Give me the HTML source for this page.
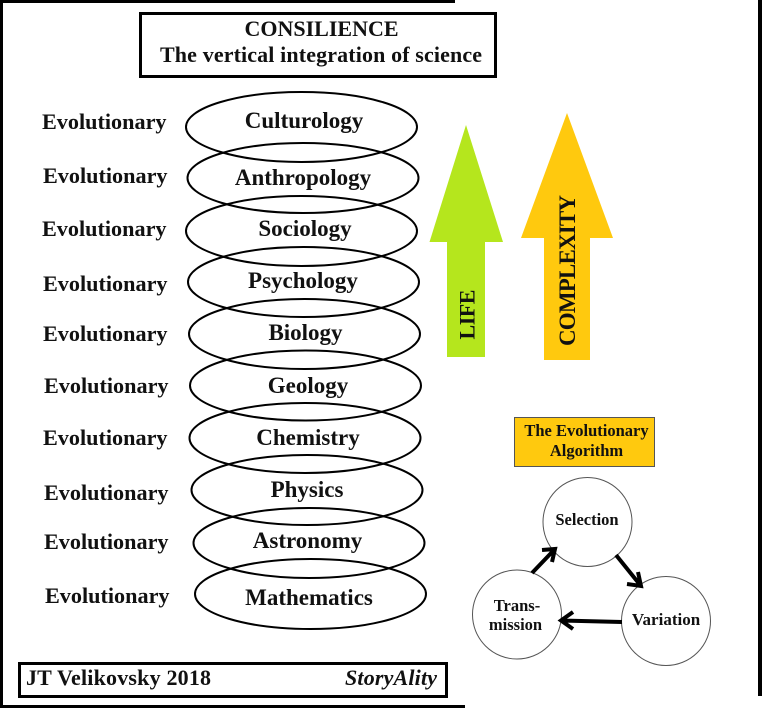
<!DOCTYPE html>
<html><head><meta charset="utf-8"><style>
html,body{margin:0;padding:0;background:#fff;width:768px;height:709px;overflow:hidden}
svg{display:block}
text{font-family:"Liberation Serif",serif;font-weight:bold;fill:#111}
</style></head><body>
<svg width="768" height="709" viewBox="0 0 768 709">
<rect width="768" height="709" fill="#fff"/>
<g fill="#000">
<rect x="0" y="0" width="455" height="3"/>
<rect x="0" y="0" width="3" height="707"/>
<rect x="0" y="705" width="465" height="3"/>
<rect x="758" y="0" width="4" height="696"/>
</g>
<rect x="140.500" y="13.500" width="355" height="63" fill="#fff" stroke="#000" stroke-width="3"/>
<text x="321.500" y="36" font-size="22" text-anchor="middle">CONSILIENCE</text>
<text x="160" y="62" font-size="22" textLength="322">The vertical integration of science</text>
<g fill="none" stroke="#000" stroke-width="2">
<ellipse cx="301.500" cy="127" rx="115.500" ry="35"/>
<ellipse cx="303" cy="178" rx="115.500" ry="35"/>
<ellipse cx="301.500" cy="231" rx="115.500" ry="35"/>
<ellipse cx="303.500" cy="282" rx="115.500" ry="35"/>
<ellipse cx="304.500" cy="334" rx="115.500" ry="35"/>
<ellipse cx="305.500" cy="385.500" rx="115.500" ry="35"/>
<ellipse cx="305" cy="438" rx="115.500" ry="35"/>
<ellipse cx="307" cy="490" rx="115.500" ry="35"/>
<ellipse cx="309" cy="543" rx="115.500" ry="35"/>
<ellipse cx="310.500" cy="594" rx="115.500" ry="35"/>
</g>
<g font-size="23" text-anchor="middle">
<text x="304" y="128">Culturology</text>
<text x="303" y="185">Anthropology</text>
<text x="305" y="236">Sociology</text>
<text x="303" y="288">Psychology</text>
<text x="305.500" y="340">Biology</text>
<text x="308" y="393">Geology</text>
<text x="308" y="445">Chemistry</text>
<text x="307" y="497">Physics</text>
<text x="307.500" y="548">Astronomy</text>
<text x="309" y="605">Mathematics</text>
</g>
<g font-size="22.200">
<text x="42" y="129">Evolutionary</text>
<text x="43" y="183">Evolutionary</text>
<text x="42" y="236">Evolutionary</text>
<text x="43" y="291">Evolutionary</text>
<text x="43" y="341">Evolutionary</text>
<text x="44" y="393">Evolutionary</text>
<text x="43" y="445">Evolutionary</text>
<text x="44" y="500">Evolutionary</text>
<text x="44" y="549">Evolutionary</text>
<text x="45" y="603">Evolutionary</text>
</g>
<polygon points="466,125 503,242 485,242 485,357 447,357 447,242 429.500,242" fill="#b5e61d"/>
<polygon points="567,113 613,238 590,238 590,360 544,360 544,238 521,238" fill="#ffc90e"/>
<text transform="translate(474.500,339.500) rotate(-90)" font-size="22" textLength="50">LIFE</text>
<text transform="translate(575,346) rotate(-90)" font-size="23" textLength="151">COMPLEXITY</text>
<rect x="514.500" y="417.500" width="140" height="49" fill="#ffc90e" stroke="#555" stroke-width="1"/>
<text x="586.500" y="436" font-size="16.500" text-anchor="middle">The Evolutionary</text>
<text x="586.500" y="456" font-size="16.500" text-anchor="middle">Algorithm</text>
<g fill="#fff" stroke="#555" stroke-width="1">
<circle cx="587.500" cy="522" r="44.500"/>
<circle cx="666" cy="621" r="44.500"/>
<circle cx="517" cy="614.500" r="44.500"/>
</g>
<g font-size="16.500" text-anchor="middle">
<text x="587" y="525">Selection</text>
<text x="666" y="625" font-size="17">Variation</text>
<text x="517" y="611">Trans-</text>
<text x="515.500" y="630">mission</text>
</g>
<g fill="none" stroke="#000" stroke-width="4">
<path d="M532,573 L555,549 M542,550 L555,549 L552,562"/>
<path d="M616,555 L641,586 M638,572 L641,586 L627,584"/>
<path d="M622,622 L561,620.500 M573,612 L561,620.500 L573,629"/>
</g>
<rect x="19.500" y="663.500" width="427" height="33" fill="#fff" stroke="#000" stroke-width="3"/>
<text x="26" y="685" font-size="22" textLength="185">JT Velikovsky 2018</text>
<text x="345" y="685" font-size="22" font-style="italic" textLength="92">StoryAlity</text>
</svg>
</body></html>
